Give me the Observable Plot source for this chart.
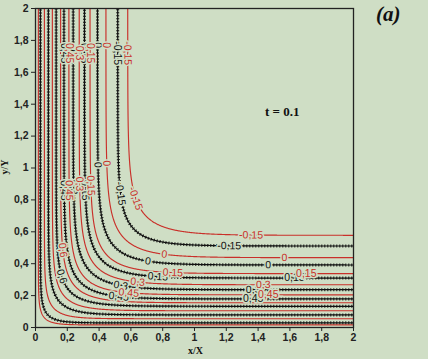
<!DOCTYPE html>
<html><head><meta charset="utf-8">
<script src="https://cdn.jsdelivr.net/npm/d3@7"></script>
<script src="https://cdn.jsdelivr.net/npm/@observablehq/plot@0.6"></script>
<style>
html,body{margin:0;padding:0;background:#cfdec5;}
#wrap{position:relative;width:428px;height:359px;overflow:hidden;background:#cfdec5;}
.ann{position:absolute;font-family:"Liberation Serif","Times New Roman",serif;font-weight:bold;color:#111;white-space:nowrap;line-height:1;}
svg [aria-label="x-axis tick label"] text, svg [aria-label="y-axis tick label"] text{font-weight:bold;font-size:10.5px;}
</style></head><body><div id="wrap"></div>
<script>
// contour levels and their printed labels
const redLevels   = [-0.15, 0, 0.15, 0.3, 0.45, 0.6, 0.75, 0.9, 1.05];
const redNames    = ["-0,15","0","0,15","0,3","0,45","0,6","0,75","0,9","1,05"];
// asymptotic leg positions (vertical leg x, horizontal leg y) and corner width
const redLegX     = [0.580, 0.443, 0.343, 0.275, 0.210, 0.158, 0.106, 0.056, 0.018];
const redLegY     = [0.578, 0.438, 0.338, 0.268, 0.205, 0.155, 0.105, 0.055, 0.016];
const redBend     = [0.170, 0.170, 0.160, 0.160, 0.150, 0.140, 0.120, 0.090, 0.060];

const blackLevels = [-0.15, 0, 0.15, 0.3, 0.45, 0.6, 0.75, 0.9];
const blackNames  = ["-0,15","0","0,15","0,3","0,45","0,6","0,75","0,9"];
const blackLegX   = [0.517, 0.390, 0.308, 0.237, 0.179, 0.130, 0.081, 0.031];
const blackLegY   = [0.511, 0.392, 0.310, 0.237, 0.179, 0.133, 0.079, 0.029];
const blackBend   = [0.150, 0.160, 0.160, 0.160, 0.150, 0.130, 0.110, 0.070];

// axis ticks
const tickValues = [0, 0.2, 0.4, 0.6, 0.8, 1, 1.2, 1.4, 1.6, 1.8, 2];
const tickNames  = ["0","0,2","0,4","0,6","0,8","1","1,2","1,4","1,6","1,8","2"];

// contour labels: series, level index, coordinate along which it sits, and that coordinate
const labSeries = ["r","b","r","b","r","b","r","b","r","b",
                   "r","b","r","b","r","b","r","b","r","b",
                   "r","r","r","r","r","r","r","r","r",
                   "b","b","b","b","b","b","b","b","b",
                   "r","b"];
const labLevel  = [0,0,1,1,2,2,3,3,4,4,
                   0,0,1,1,2,2,3,3,4,4,
                   0,1,1,2,2,3,3,4,4,
                   0,1,1,2,2,3,3,4,4,
                   5,5];
const labAlong  = ["y","y","y","y","y","y","y","y","y","y",
                   "y","y","y","y","y","y","y","y","y","y",
                   "x","x","x","x","x","x","x","x","x",
                   "x","x","x","x","x","x","x","x","x",
                   "y","y"];
const labAt     = [1.72,1.72,1.77,1.77,1.72,1.72,1.72,1.72,1.72,1.72,
                   0.81,0.84,1.03,1.02,0.89,0.86,0.90,0.88,0.86,0.86,
                   1.356,0.81,1.565,0.864,1.703,0.643,1.432,0.587,1.464,
                   1.218,0.707,1.464,0.77,1.628,0.536,1.369,0.524,1.369,
                   0.485,0.32];

const RED = "#c9302a", BLACK = "#111", BG = "#cfdec5";

function series(key){
  return key === "r"
    ? {legX: redLegX, legY: redLegY, bend: redBend, names: redNames}
    : {legX: blackLegX, legY: blackLegY, bend: blackBend, names: blackNames};
}

// rounded-L contour through the read leg positions
function contour(a, b, s, id){
  const pts = [];
  const wMin = -(2.2 - a) / s, wMax = (2.2 - b) / s, dw = 0.004 / s;
  for (let w = wMin; w <= wMax; w += dw){
    pts.push({id, x: a + s * Math.log1p(Math.exp(-w)), y: b + s * Math.log1p(Math.exp(w))});
  }
  return pts;
}

const redLines = redLevels.flatMap((v,i) => contour(redLegX[i], redLegY[i], redBend[i], "r"+i));
const blackLines = blackLevels.flatMap((v,i) => contour(blackLegX[i], blackLegY[i], blackBend[i], "b"+i));

const labels = labSeries.map((k, j) => {
  const S = series(k), i = labLevel[j];
  const a = S.legX[i], b = S.legY[i], s = S.bend[i];
  let x, y, u;
  if (labAlong[j] === "y"){ y = labAt[j]; u = 1 - Math.exp(-(y - b)/s); x = a - s*Math.log(u); }
  else { x = labAt[j]; u = Math.exp(-(x - a)/s); y = b - s*Math.log(1 - u); }
  const r = Math.atan2(u, 1 - u) * 180 / Math.PI;
  return {k, x, y, r, t: S.names[i]};
});

const fmt = d => tickNames[tickValues.findIndex(v => Math.abs(v - d) < 1e-9)];

const chart = Plot.plot({
  width: 428, height: 359,
  marginLeft: 35, marginRight: 75, marginTop: 8, marginBottom: 32,
  style: {background: "transparent", fontFamily: "'Liberation Sans', Arial, sans-serif", fontSize: "10px", color: "#222"},
  x: {domain: [0, 2]},
  y: {domain: [0, 2]},
  marks: [
    Plot.line(redLines, {x: "x", y: "y", z: "id", stroke: RED, strokeWidth: 1.15, clip: true}),
    Plot.line(blackLines, {x: "x", y: "y", z: "id", stroke: BLACK, strokeWidth: 1.2, clip: true}),
    Plot.line(blackLines, {x: "x", y: "y", z: "id", stroke: BLACK, strokeWidth: 3, strokeDasharray: "1,2", strokeLinecap: "butt", clip: true}),
    Plot.text(labels.filter(d => d.k === "b"), {x: "x", y: "y", text: "t", rotate: "r", fill: BLACK, stroke: BG, strokeWidth: 3, fontSize: 10.5}),
    Plot.text(labels.filter(d => d.k === "r"), {x: "x", y: "y", text: "t", rotate: "r", fill: RED, stroke: BG, strokeWidth: 3, fontSize: 10.5}),
    Plot.frame({stroke: "#222", strokeWidth: 1.3}),
    Plot.axisX({ticks: tickValues, tickFormat: fmt, tickSize: 4, tickPadding: 2, label: null, stroke: "#222"}),
    Plot.axisY({ticks: tickValues, tickFormat: fmt, tickSize: 4, tickPadding: 3, label: null, stroke: "#222"})
  ]
});

const wrap = document.getElementById("wrap");
wrap.appendChild(chart);
function ann(text, css){ const d = document.createElement("div"); d.className = "ann"; d.textContent = text; Object.assign(d.style, css); wrap.appendChild(d); }
ann("(a)", {left: "376px", top: "4px", fontSize: "21px", fontStyle: "italic"});
ann("t = 0.1", {left: "265px", top: "105px", fontSize: "13px"});
ann("x/X", {left: "188px", top: "346px", fontSize: "10px"});
ann("y/Y", {left: "-3px", top: "162px", fontSize: "10px", transform: "rotate(-90deg)"});
</script></body></html>
